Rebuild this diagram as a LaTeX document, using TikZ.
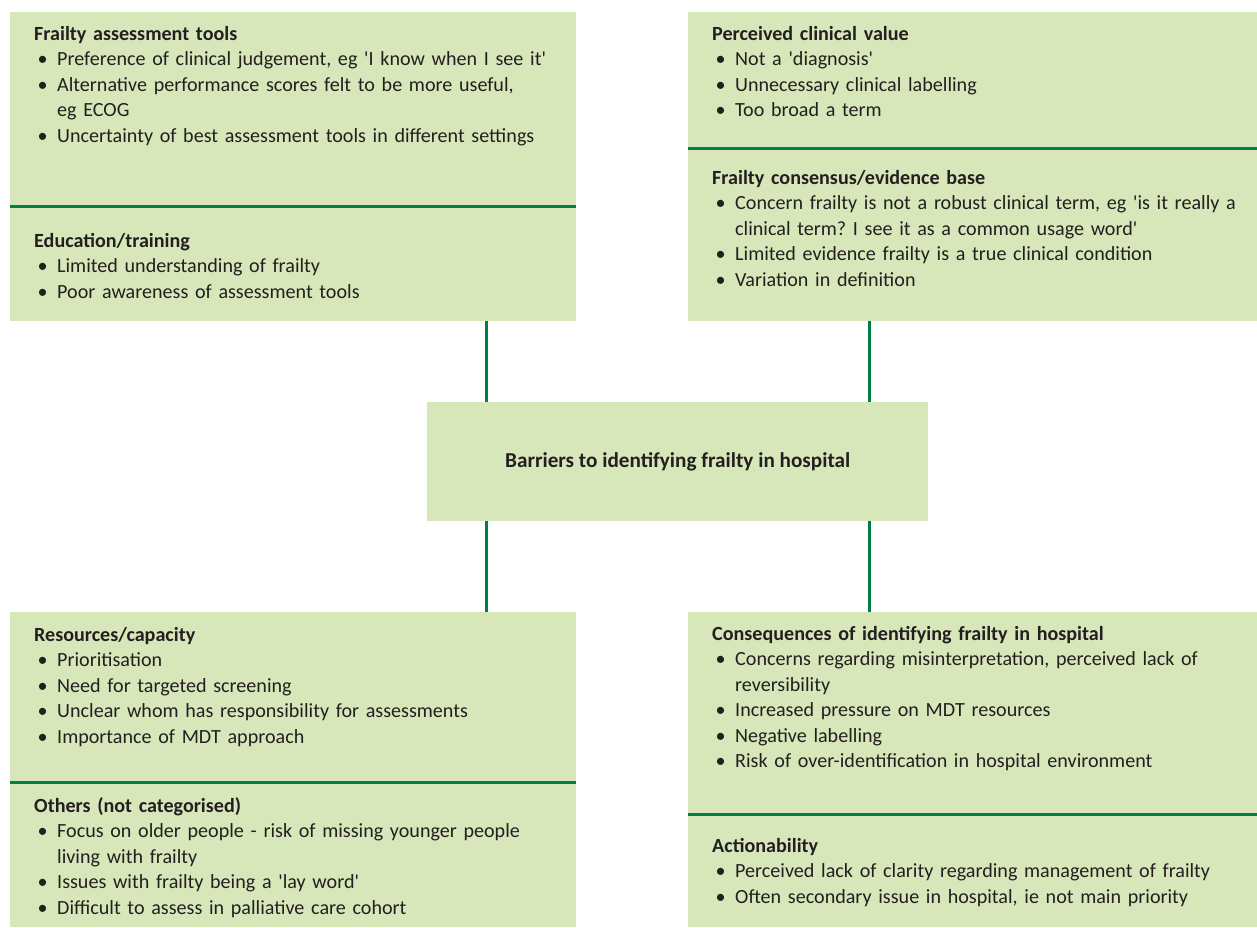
\documentclass[tikz,border=0pt]{standalone}
\usepackage{fontspec}
\setmainfont{Carlito}[Ligatures=TeXOff]
\usepackage{xcolor}
\definecolor{fbfill}{RGB}{216,231,185}
\definecolor{fbline}{RGB}{0,128,68}
\definecolor{fbtext}{RGB}{35,31,32}
\newcommand{\fbitem}[1]{\par\hangindent=23pt\hangafter=1\noindent\makebox[23pt][l]{\hspace{3.5pt}\textbullet}#1}
\newcommand{\fbhead}[1]{\noindent\textbf{#1}}
\tikzset{
  fbpanel/.style={fill=fbfill, draw=none, inner sep=0pt, anchor=north west},
  fbsplit/.style={line width=3pt, draw=fbline, line cap=butt},
  fblink/.style={line width=3pt, draw=fbline, line cap=butt},
  fbtxt/.style={anchor=base west, inner sep=0pt, text width=560pt, align=left,
    text=fbtext, font=\fontsize{20.1}{25.5}\selectfont\frenchspacing},
}
\begin{document}
\begin{tikzpicture}[x=1pt,y=-1pt]
\useasboundingbox (0,0) rectangle (1257,927);
% panels
\node[fbpanel, minimum width=566, minimum height=194] (fat) at (10,12) {};
\node[fbpanel, minimum width=566, minimum height=115] (edu) at (10,206) {};
\node[fbpanel, minimum width=569, minimum height=136] (pcv) at (688,12) {};
\node[fbpanel, minimum width=569, minimum height=173] (fce) at (688,148) {};
\node[fbpanel, minimum width=501, minimum height=119] (hub) at (427,402) {};
\node[fbpanel, minimum width=566, minimum height=170] (res) at (10,612) {};
\node[fbpanel, minimum width=566, minimum height=145] (oth) at (10,782) {};
\node[fbpanel, minimum width=569, minimum height=202] (csq) at (688,612) {};
\node[fbpanel, minimum width=569, minimum height=113] (act) at (688,814) {};
% dividers
\draw[fbsplit] (fat.south west) -- (fat.south east);
\draw[fbsplit] (pcv.south west) -- (pcv.south east);
\draw[fbsplit] (res.south west) -- (res.south east);
\draw[fbsplit] (csq.south west) -- (csq.south east);
% links to the hub
\draw[fblink] (486,0 |- edu.south) -- (486,0 |- hub.north);
\draw[fblink] (869,0 |- fce.south) -- (869,0 |- hub.north);
\draw[fblink] (486,0 |- hub.south) -- (486,0 |- res.north);
\draw[fblink] (869,0 |- hub.south) -- (869,0 |- csq.north);
% texts
\node[fbtxt] (fatT) at (34,40) {\fbhead{Frailty assessment tools}
  \fbitem{Preference of clinical judgement, eg 'I know when I see it'}
  \fbitem{Alternative performance scores felt to be more useful,\newline eg ECOG}
  \fbitem{Uncertainty of best assessment tools in different settings}};
\node[fbtxt] (eduT) at (34,247) {\fbhead{Education/training}
  \fbitem{Limited understanding of frailty}
  \fbitem{Poor awareness of assessment tools}};
\node[fbtxt] (pcvT) at (712,40) {\fbhead{Perceived clinical value}
  \fbitem{Not a 'diagnosis'}
  \fbitem{Unnecessary clinical labelling}
  \fbitem{Too broad a term}};
\node[fbtxt] (fceT) at (712,184) {\fbhead{Frailty consensus/evidence base}
  \fbitem{Concern frailty is not a robust clinical term, eg 'is it really a\newline clinical term? I see it as a common usage word'}
  \fbitem{Limited evidence frailty is a true clinical condition}
  \fbitem{Variation in definition}};
\node[fbtxt, anchor=center, text width=, align=center, font=\fontsize{21.2}{25.5}\selectfont\bfseries] (hubT) at (hub.center) {Barriers to identifying frailty in hospital};
\node[fbtxt] (resT) at (34,641) {\fbhead{Resources/capacity}
  \fbitem{Prioritisation}
  \fbitem{Need for targeted screening}
  \fbitem{Unclear whom has responsibility for assessments}
  \fbitem{Importance of MDT approach}};
\node[fbtxt] (othT) at (34,812) {\fbhead{Others (not categorised)}
  \fbitem{Focus on older people - risk of missing younger people\newline living with frailty}
  \fbitem{Issues with frailty being a 'lay word'}
  \fbitem{Difficult to assess in palliative care cohort}};
\node[fbtxt] (csqT) at (712,640) {\fbhead{Consequences of identifying frailty in hospital}
  \fbitem{Concerns regarding misinterpretation, perceived lack of\newline reversibility}
  \fbitem{Increased pressure on MDT resources}
  \fbitem{Negative labelling}
  \fbitem{Risk of over-identification in hospital environment}};
\node[fbtxt] (actT) at (712,852) {\fbhead{Actionability}
  \fbitem{Perceived lack of clarity regarding management of frailty}
  \fbitem{Often secondary issue in hospital, ie not main priority}};
\end{tikzpicture}
\end{document}
